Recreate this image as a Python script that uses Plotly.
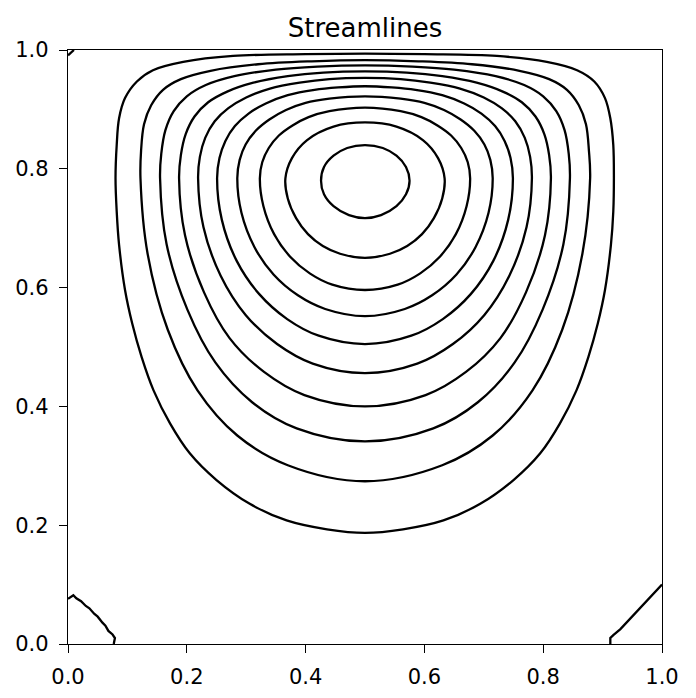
import plotly.graph_objects as go

# streamlines, outer (1) to inner (10)
s1_x = [0.500, 0.400, 0.278, 0.194, 0.143, 0.116, 0.096, 0.086, 0.082, 0.080,
        0.082, 0.086, 0.096, 0.108, 0.124, 0.144, 0.172, 0.205, 0.250, 0.306, 0.368, 0.436, 0.500,
        0.564, 0.632, 0.694, 0.750, 0.795, 0.828, 0.856, 0.876, 0.892, 0.904, 0.914, 0.918, 0.919,
        0.918, 0.913, 0.904, 0.886, 0.857, 0.806, 0.722, 0.600, 0.500]
s1_y = [0.994, 0.993, 0.990, 0.980, 0.966, 0.947, 0.919, 0.885, 0.840, 0.784,
        0.728, 0.672, 0.596, 0.540, 0.483, 0.427, 0.371, 0.321, 0.276, 0.236, 0.208, 0.193, 0.187,
        0.193, 0.208, 0.236, 0.276, 0.321, 0.371, 0.427, 0.483, 0.540, 0.596, 0.672, 0.728, 0.784,
        0.840, 0.885, 0.919, 0.947, 0.966, 0.980, 0.990, 0.993, 0.994]

s2_x = [0.500, 0.410, 0.320, 0.240, 0.190, 0.160, 0.140, 0.128, 0.123, 0.122,
        0.134, 0.168, 0.218, 0.285, 0.370, 0.500,
        0.630, 0.715, 0.782, 0.832, 0.866, 0.879,
        0.877, 0.872, 0.860, 0.840, 0.810, 0.760, 0.680, 0.590, 0.500]
s2_y = [0.983, 0.981, 0.976, 0.965, 0.951, 0.933, 0.907, 0.875, 0.830, 0.784,
        0.657, 0.529, 0.427, 0.351, 0.301, 0.274,
        0.301, 0.351, 0.427, 0.529, 0.657, 0.784,
        0.830, 0.875, 0.907, 0.933, 0.951, 0.965, 0.976, 0.981, 0.983]

s3_x = [0.500, 0.420, 0.350, 0.280, 0.232, 0.200, 0.178, 0.164, 0.157, 0.155,
        0.166, 0.201, 0.248, 0.310, 0.385, 0.500,
        0.615, 0.690, 0.752, 0.799, 0.834, 0.845,
        0.843, 0.836, 0.822, 0.800, 0.768, 0.720, 0.650, 0.580, 0.500]
s3_y = [0.974, 0.972, 0.967, 0.956, 0.941, 0.922, 0.897, 0.865, 0.825, 0.784,
        0.673, 0.563, 0.474, 0.407, 0.363, 0.341,
        0.363, 0.407, 0.474, 0.563, 0.673, 0.784,
        0.825, 0.865, 0.897, 0.922, 0.941, 0.956, 0.967, 0.972, 0.974]

s4_x = [0.500, 0.430, 0.370, 0.312, 0.268, 0.236, 0.213, 0.198, 0.190, 0.187,
        0.197, 0.229, 0.272, 0.330, 0.398, 0.500,
        0.602, 0.670, 0.728, 0.771, 0.803, 0.813,
        0.810, 0.802, 0.787, 0.764, 0.732, 0.688, 0.630, 0.570, 0.500]
s4_y = [0.964, 0.962, 0.956, 0.945, 0.930, 0.912, 0.888, 0.858, 0.823, 0.784,
        0.688, 0.592, 0.515, 0.458, 0.419, 0.400,
        0.419, 0.458, 0.515, 0.592, 0.688, 0.784,
        0.823, 0.858, 0.888, 0.912, 0.930, 0.945, 0.956, 0.962, 0.964]

s5_x = [0.500, 0.440, 0.390, 0.340, 0.300, 0.270, 0.247, 0.231, 0.222, 0.219,
        0.228, 0.257, 0.299, 0.352, 0.412, 0.500,
        0.588, 0.648, 0.701, 0.743, 0.772, 0.781,
        0.778, 0.769, 0.753, 0.730, 0.700, 0.660, 0.610, 0.560, 0.500]
s5_y = [0.953, 0.951, 0.945, 0.935, 0.920, 0.902, 0.880, 0.852, 0.820, 0.784,
        0.702, 0.620, 0.554, 0.505, 0.472, 0.456,
        0.472, 0.505, 0.554, 0.620, 0.702, 0.784,
        0.820, 0.852, 0.880, 0.902, 0.920, 0.935, 0.945, 0.951, 0.953]

s6_x = [0.500, 0.455, 0.415, 0.370, 0.333, 0.304, 0.281, 0.265, 0.255, 0.251,
        0.259, 0.284, 0.322, 0.369, 0.422, 0.500,
        0.578, 0.631, 0.678, 0.716, 0.741, 0.749,
        0.745, 0.735, 0.719, 0.696, 0.667, 0.630, 0.585, 0.545, 0.500]
s6_y = [0.939, 0.937, 0.933, 0.924, 0.910, 0.893, 0.872, 0.847, 0.818, 0.784,
        0.714, 0.645, 0.589, 0.547, 0.519, 0.505,
        0.519, 0.547, 0.589, 0.645, 0.714, 0.784,
        0.818, 0.847, 0.872, 0.893, 0.910, 0.924, 0.933, 0.937, 0.939]

s7_x = [0.500, 0.440, 0.400, 0.367, 0.339, 0.316, 0.299, 0.289, 0.285,
        0.292, 0.314, 0.346, 0.387, 0.433, 0.500,
        0.567, 0.613, 0.654, 0.686, 0.708, 0.715,
        0.711, 0.701, 0.684, 0.661, 0.633, 0.600, 0.560, 0.500]
s7_y = [0.922, 0.918, 0.911, 0.899, 0.883, 0.864, 0.841, 0.815, 0.784,
        0.726, 0.668, 0.622, 0.587, 0.564, 0.552,
        0.564, 0.587, 0.622, 0.668, 0.726, 0.784,
        0.815, 0.841, 0.864, 0.883, 0.899, 0.911, 0.918, 0.922]

s8_x = [0.500, 0.440, 0.405, 0.378, 0.355, 0.338, 0.327, 0.323,
        0.329, 0.347, 0.374, 0.407, 0.445, 0.500,
        0.555, 0.593, 0.626, 0.653, 0.671, 0.677,
        0.673, 0.662, 0.645, 0.622, 0.595, 0.560, 0.500]
s8_y = [0.903, 0.897, 0.887, 0.873, 0.856, 0.835, 0.811, 0.784,
        0.737, 0.690, 0.652, 0.624, 0.605, 0.596,
        0.605, 0.624, 0.652, 0.690, 0.737, 0.784,
        0.811, 0.835, 0.856, 0.873, 0.887, 0.897, 0.903]

s9_x = [0.500, 0.447, 0.402, 0.377, 0.366, 0.370, 0.384, 0.404, 0.429, 0.458, 0.500,
        0.542, 0.571, 0.596, 0.616, 0.630, 0.634, 0.623, 0.598, 0.553, 0.500]
s9_y = [0.878, 0.871, 0.848, 0.818, 0.784, 0.750, 0.717, 0.690, 0.670, 0.657, 0.650,
        0.657, 0.670, 0.690, 0.717, 0.750, 0.784, 0.818, 0.848, 0.871, 0.878]

s10_x = [0.500, 0.470, 0.447, 0.431, 0.426, 0.431, 0.447, 0.473, 0.500,
         0.527, 0.553, 0.569, 0.575, 0.569, 0.553, 0.530, 0.500]
s10_y = [0.840, 0.835, 0.822, 0.803, 0.780, 0.757, 0.737, 0.722, 0.717,
         0.722, 0.737, 0.757, 0.780, 0.803, 0.822, 0.835, 0.840]

# small corner eddies
bl_x = [0.000, 0.009, 0.014, 0.022, 0.030, 0.036, 0.044, 0.050, 0.058, 0.063, 0.068, 0.072, 0.075, 0.079, 0.077]
bl_y = [0.076, 0.082, 0.077, 0.072, 0.064, 0.060, 0.051, 0.046, 0.036, 0.031, 0.022, 0.018, 0.016, 0.010, 0.000]
br_x = [1.000, 0.975, 0.950, 0.930, 0.918, 0.913, 0.913]
br_y = [0.100, 0.073, 0.045, 0.025, 0.015, 0.010, 0.000]
tl_x = [0.000, 0.003, 0.006, 0.010]
tl_y = [0.991, 0.994, 0.997, 1.000]

tick_vals = [0.0, 0.2, 0.4, 0.6, 0.8, 1.0]
tick_text = ["0.0", "0.2", "0.4", "0.6", "0.8", "1.0"]

fig = go.Figure()

streams = [(s1_x, s1_y), (s2_x, s2_y), (s3_x, s3_y), (s4_x, s4_y), (s5_x, s5_y),
           (s6_x, s6_y), (s7_x, s7_y), (s8_x, s8_y), (s9_x, s9_y), (s10_x, s10_y)]
for xs, ys in streams:
    fig.add_trace(go.Scatter(x=xs, y=ys, mode="lines",
                             line=dict(color="black", width=2.3, shape="spline", smoothing=1.0),
                             hoverinfo="skip"))

for xs, ys in [(bl_x, bl_y), (br_x, br_y), (tl_x, tl_y)]:
    fig.add_trace(go.Scatter(x=xs, y=ys, mode="lines",
                             line=dict(color="black", width=2.3), hoverinfo="skip"))

axis_style = dict(
    range=[0, 1],
    tickvals=tick_vals,
    ticktext=tick_text,
    ticks="outside",
    ticklen=8,
    tickwidth=1.2,
    tickcolor="black",
    showline=True,
    linewidth=1.3,
    linecolor="black",
    mirror=True,
    showgrid=False,
    zeroline=False,
    automargin=False,
    tickfont=dict(family="DejaVu Sans", size=21, color="black"),
    ticklabelstandoff=6,
)

# the page body adds an 8px offset, margins below allow for it
fig.update_layout(
    width=696,
    height=698,
    margin=dict(l=60, r=42, t=42, b=62),
    plot_bgcolor="white",
    paper_bgcolor="white",
    showlegend=False,
    font=dict(family="DejaVu Sans", color="black"),
    title=dict(text="Streamlines", x=0.5, xref="paper", xanchor="center",
               y=1 - 20 / 698, yref="container", yanchor="middle",
               font=dict(family="DejaVu Sans", size=26, color="black")),
    xaxis=axis_style,
    yaxis=axis_style,
)

fig.write_html("out.html")
